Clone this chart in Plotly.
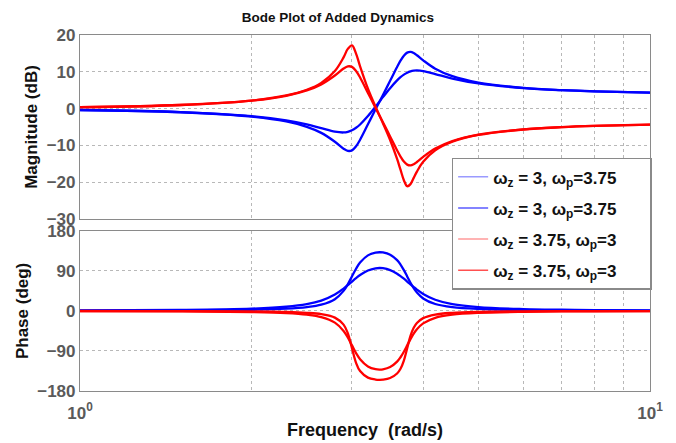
import plotly.graph_objects as go
from plotly.subplots import make_subplots

# Frequency points (rad/s)
freq = [1, 1.5, 2, 2.3, 2.5, 2.65, 2.8, 2.9, 2.95, 3.0, 3.05, 3.1, 3.2, 3.3, 3.354,
        3.4, 3.5, 3.6, 3.65, 3.7, 3.75, 3.8, 3.85, 3.9, 4.0, 4.2, 4.5, 5, 6, 7, 8, 10]

# Magnitude (dB): wz = 3, wp = 3.75
mag_blue_a = [-0.37, -0.95, -2.05, -3.20, -4.30, -5.32, -6.27, -6.48, -6.31, -5.89, -5.21,
              -4.31, -2.03, 0.53, 1.94, 3.12, 5.55, 7.66, 8.53, 9.24, 9.77, 10.12, 10.31,
              10.37, 10.20, 9.40, 8.18, 6.85, 5.58, 5.00, 4.69, 4.36]
mag_blue_b = [-0.38, -0.98, -2.16, -3.49, -4.94, -6.59, -9.00, -10.89, -11.48, -11.34, -10.24,
              -8.46, -4.27, -0.19, 1.94, 3.71, 7.55, 11.32, 13.02, 14.39, 15.21, 15.41, 15.09,
              14.50, 13.12, 10.86, 8.82, 7.09, 5.65, 5.04, 4.71, 4.37]
# Magnitude (dB): wz = 3.75, wp = 3
mag_red_a = [0.38, 0.98, 2.16, 3.49, 4.94, 6.59, 9.00, 10.89, 11.48, 11.34, 10.24,
             8.46, 4.27, 0.19, -1.94, -3.71, -7.55, -11.32, -13.02, -14.39, -15.21, -15.41,
             -15.09, -14.50, -13.12, -10.86, -8.82, -7.09, -5.65, -5.04, -4.71, -4.37]
mag_red_b = [0.38, 0.98, 2.19, 3.57, 5.13, 7.00, 10.21, 13.91, 16.22, 17.20, 14.95,
             11.47, 5.40, 0.50, -1.94, -3.97, -8.53, -13.68, -16.59, -19.44, -21.08, -20.51,
             -18.81, -17.10, -14.46, -11.35, -9.01, -7.16, -5.67, -5.05, -4.71, -4.37]

# Phase (deg): wz = 3, wp = 3.75
ph_blue_a = [1.0, 2.15, 5.02, 9.28, 15.11, 23.03, 36.73, 50.22, 58.03, 66.04, 73.72,
             80.59, 90.74, 95.71, 96.38, 95.91, 91.75, 83.60, 78.26, 72.32, 66.04, 59.71,
             53.61, 47.93, 38.22, 25.10, 15.11, 8.30, 4.00, 2.56, 1.86, 1.22]
ph_blue_b = [0.50, 1.09, 2.58, 4.92, 8.41, 13.87, 26.33, 44.97, 59.76, 77.47, 94.78,
             108.63, 124.82, 131.04, 131.81, 131.28, 126.19, 113.97, 104.18, 91.71, 77.47,
             63.32, 51.02, 41.21, 28.02, 15.46, 8.42, 4.37, 2.0, 1.28, 0.93, 0.61]
# Phase (deg): wz = 3.75, wp = 3
ph_red_a = [-0.50, -1.09, -2.58, -4.92, -8.41, -13.87, -26.33, -44.97, -59.76, -77.47, -94.78,
            -108.63, -124.82, -131.04, -131.81, -131.28, -126.19, -113.97, -104.18, -91.71,
            -77.47, -63.32, -51.02, -41.21, -28.02, -15.46, -8.42, -4.37, -2.0, -1.28, -0.93, -0.61]
ph_red_b = [-0.25, -0.54, -1.30, -2.50, -4.33, -7.33, -15.08, -30.91, -50.20, -83.66, -116.62,
            -135.24, -149.92, -154.28, -154.79, -154.44, -150.92, -140.75, -130.01, -111.48,
            -83.66, -56.10, -37.86, -27.13, -16.26, -8.24, -4.34, -2.2, -1.0, -0.64, -0.47, -0.31]

legend_names = ["ω<sub>z</sub> = 3, ω<sub>p</sub>=3.75", "ω<sub>z</sub> = 3, ω<sub>p</sub>=3.75",
                "ω<sub>z</sub> = 3.75, ω<sub>p</sub>=3", "ω<sub>z</sub> = 3.75, ω<sub>p</sub>=3"]
legend_colors = ["#9a9aff", "#5a5aff", "#ff9a9a", "#ff5050"]

mag_ticks = [-30, -20, -10, 0, 10, 20]
phase_ticks = [-180, -90, 0, 90, 180]
x_grid = [1, 2, 3, 4, 5, 6, 7, 8, 9, 10]
x_text = ["10<sup>0</sup>", "", "", "", "", "", "", "", "", "10<sup>1</sup>"]

BLUE = "#0000ff"
RED = "#ff0000"
FONT = "Liberation Sans, Arial, sans-serif"
TICK_GRAY = "#5a5a5a"
PAD = "\u00a0" * 6  # right padding inside the legend box

fig = make_subplots(rows=2, cols=1)

series = [
    (mag_blue_a, ph_blue_a, BLUE),
    (mag_blue_b, ph_blue_b, BLUE),
    (mag_red_a, ph_red_a, RED),
    (mag_red_b, ph_red_b, RED),
]
for mag, ph, col in series:
    fig.add_trace(go.Scatter(x=freq, y=mag, mode="lines", showlegend=False,
                             line=dict(color=col, width=2.3, shape="spline", smoothing=1)),
                  row=1, col=1)
    fig.add_trace(go.Scatter(x=freq, y=ph, mode="lines", showlegend=False,
                             line=dict(color=col, width=2.3, shape="spline", smoothing=1)),
                  row=2, col=1)

# legend entries with thin sample lines
for i, (name, col) in enumerate(zip(legend_names, legend_colors)):
    fig.add_trace(go.Scatter(x=[None], y=[None], mode="lines", name=name + PAD,
                             legendgroup=f"g{i}",
                             line=dict(color=col, width=1.5)), row=1, col=1)

axis_common = dict(showline=True, linecolor="#8a8a8a", linewidth=1.2, mirror=True,
                   showgrid=True, gridcolor="#b8b8b8", griddash="dot", gridwidth=1,
                   zeroline=False, ticks="", automargin=False,
                   tickfont=dict(family=FONT, size=17, color=TICK_GRAY, weight="bold"))

fig.update_xaxes(type="log", range=[0, 1], tickvals=x_grid, **axis_common)
fig.update_xaxes(ticktext=[""] * len(x_grid), showticklabels=False, row=1, col=1)
fig.update_xaxes(ticktext=x_text, ticklabelstandoff=6, row=2, col=1,
                 title=dict(text="Frequency  (rad/s)", standoff=1,
                            font=dict(family=FONT, size=18, color="#111", weight="bold")))

fig.update_yaxes(range=[-30, 20], tickvals=mag_ticks, row=1, col=1, domain=[0.483, 1.0],
                 title=dict(text="Magnitude (dB)", standoff=4,
                            font=dict(family=FONT, size=17, color="#111", weight="bold")),
                 **axis_common)
fig.update_yaxes(range=[-180, 180], tickvals=phase_ticks, row=2, col=1, domain=[0.0, 0.45],
                 title=dict(text="Phase (deg)", standoff=4,
                            font=dict(family=FONT, size=17, color="#111", weight="bold")),
                 **axis_common)

fig.update_layout(
    width=676, height=443,
    margin=dict(l=80, r=26, t=35, b=52),
    paper_bgcolor="white", plot_bgcolor="white",
    title=dict(text="Bode Plot of Added Dynamics", x=0.5, xanchor="center",
               y=1 - 17 / 443, yanchor="middle",
               font=dict(family=FONT, size=13.5, color="#111", weight="bold")),
    legend=dict(x=0.652, y=0.655, xanchor="left", yanchor="top",
                bgcolor="white", bordercolor="#8a8a8a", borderwidth=1.5,
                font=dict(family=FONT, size=17, color="#111", weight="bold"),
                tracegroupgap=6),
    hovermode=False,
)

fig.write_html("out.html")
